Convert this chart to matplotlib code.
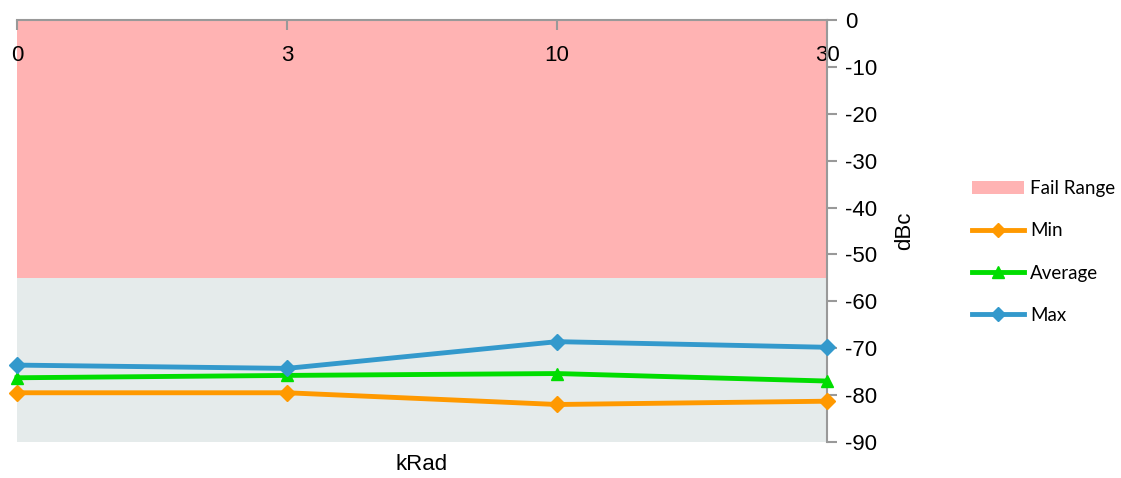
import matplotlib
matplotlib.use("Agg")
import matplotlib.pyplot as plt
from matplotlib.patches import Patch
from matplotlib.lines import Line2D

categories = ["0", "3", "10", "30"]
min_vals = [-79.5, -79.5, -82.0, -81.3]
avg_vals = [-76.3, -75.8, -75.4, -77.0]
max_vals = [-73.6, -74.3, -68.6, -69.8]
fail_top, fail_bottom = 0, -55
yticks = [0, -10, -20, -30, -40, -50, -60, -70, -80, -90]

plt.rcParams['font.family'] = ['Liberation Sans', 'DejaVu Sans']

fig = plt.figure(figsize=(11.21, 4.78), dpi=100)
ax = fig.add_axes([17/1121, 1-442/478, (827-17)/1121, (442-20)/478])

x = list(range(len(categories)))
ax.set_facecolor('#E5EBEB')
ax.axhspan(fail_bottom, fail_top, color='#FFB3B3', zorder=0.5, lw=0)

ax.plot(x, min_vals, color='#FF9900', lw=3.5, marker='D', ms=8, clip_on=False, zorder=3)
ax.plot(x, avg_vals, color='#00DD00', lw=3.5, marker='^', ms=9, clip_on=False, zorder=3)
ax.plot(x, max_vals, color='#3399CC', lw=3.5, marker='D', ms=8, clip_on=False, zorder=3)

ax.set_xlim(0, len(categories) - 1)
ax.set_ylim(-90, 0)

for s in ['left', 'bottom']:
    ax.spines[s].set_visible(False)
for s in ['top', 'right']:
    ax.spines[s].set_color('#999999')
    ax.spines[s].set_linewidth(1.5)

ax.yaxis.tick_right()
ax.set_yticks(yticks)
ax.set_yticklabels([str(v) for v in yticks])
ax.tick_params(axis='y', direction='out', length=7, width=1.5, color='#999999',
               labelsize=16, pad=6)

ax.xaxis.tick_top()
ax.set_xticks(x)
ax.set_xticklabels(categories)
ax.tick_params(axis='x', direction='in', length=7, width=1.5, color='#999999',
               labelsize=16, pad=-33)
for lbl in ax.get_xticklabels():
    lbl.set_zorder(5)

ax.yaxis.set_label_position('right')
ax.set_ylabel('dBc', fontsize=16, labelpad=12)
fig.text(422/1121, 1-465/478, 'kRad', fontsize=16, ha='center', va='center')

handles = [
    Patch(facecolor='#FFB3B3', edgecolor='none', label='Fail Range'),
    Line2D([], [], color='#FF9900', lw=3.5, marker='D', ms=7, label='Min'),
    Line2D([], [], color='#00DD00', lw=3.5, marker='^', ms=8, label='Average'),
    Line2D([], [], color='#3399CC', lw=3.5, marker='D', ms=7, label='Max'),
]
fig.legend(handles=handles, loc='center left', bbox_to_anchor=(966/1121, 1-252/478),
           frameon=False, handlelength=2.8, handleheight=0.7,
           labelspacing=1.35, handletextpad=0.3, borderpad=0.3, borderaxespad=0,
           prop={'family': ['Lato', 'DejaVu Sans'], 'size': 13.5})

fig.savefig('out.png', dpi=100)
